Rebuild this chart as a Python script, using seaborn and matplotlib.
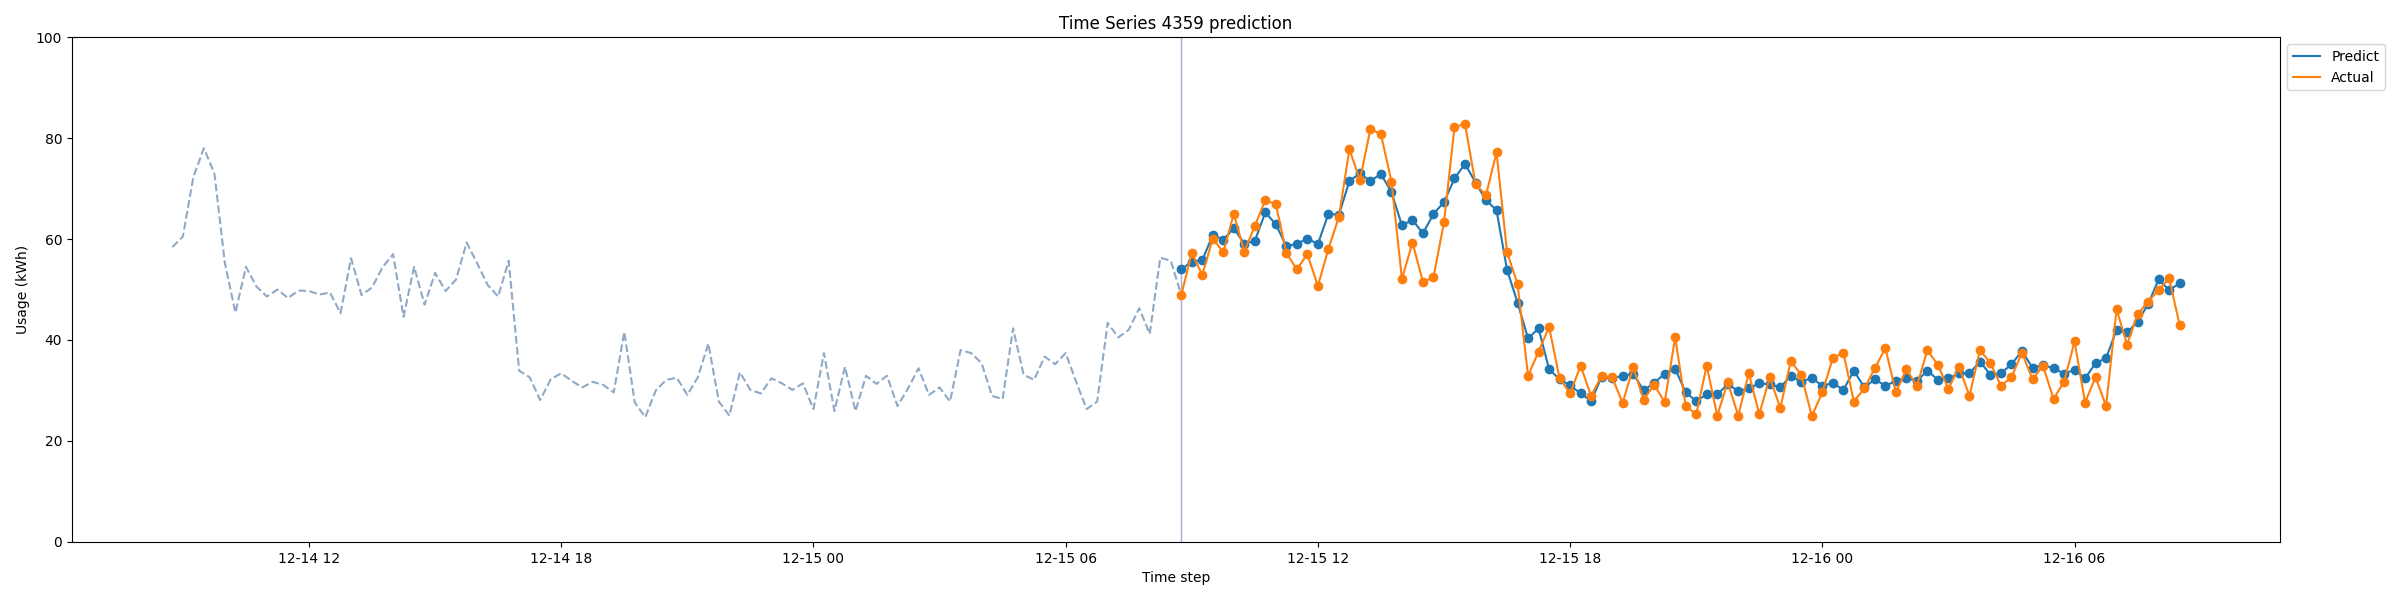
import pandas as pd
import numpy as np
import matplotlib
matplotlib.use('Agg')
import matplotlib.pyplot as plt
import matplotlib.dates as mdates
from matplotlib.lines import Line2D
import seaborn as sns

# Chart values (15 minute steps)
history_start = '2014-12-14 08:45'
forecast_start = '2014-12-15 08:45'

history = [
    58.4, 60.5, 72.3, 78.0, 73.0, 55.2, 45.4, 54.5, 50.6, 48.6,
    50.0, 48.3, 49.8, 49.7, 49.0, 49.4, 45.3, 56.2, 48.9, 50.4,
    54.4, 57.0, 44.6, 54.5, 47.0, 53.3, 49.7, 52.0, 59.3, 55.2,
    50.9, 48.6, 55.7, 33.9, 32.6, 28.1, 32.2, 33.4, 31.9, 30.6,
    31.7, 31.1, 29.6, 41.6, 27.6, 24.7, 30.0, 32.1, 32.5, 29.1,
    32.6, 39.3, 27.8, 25.0, 33.6, 30.1, 29.4, 32.4, 31.4, 30.1,
    31.4, 26.3, 37.4, 25.9, 34.7, 25.9, 32.9, 31.3, 32.9, 26.9,
    30.4, 34.4, 29.1, 30.6, 27.8, 38.0, 37.4, 35.4, 28.9, 28.3,
    42.3, 33.1, 32.1, 36.7, 35.2, 37.4, 31.7, 26.3, 27.8, 43.4,
    40.5, 42.0, 46.3, 41.2, 56.3, 55.7,
]

predict = [
    54.0, 55.5, 55.8, 60.8, 59.9, 62.1, 59.1, 59.6, 65.3, 62.9,
    58.6, 59.0, 60.1, 59.0, 65.0, 64.8, 71.5, 73.0, 71.5, 72.9,
    69.3, 62.7, 63.8, 61.1, 65.0, 67.3, 72.0, 74.9, 71.2, 67.7,
    65.7, 53.9, 47.4, 40.3, 42.3, 34.2, 32.2, 31.0, 29.4, 27.9,
    32.7, 32.4, 32.9, 33.3, 30.0, 31.5, 33.3, 34.3, 29.6, 27.9,
    29.2, 29.2, 31.2, 29.9, 30.4, 31.4, 31.2, 30.6, 32.9, 31.7,
    32.5, 30.9, 31.5, 30.1, 33.9, 30.6, 32.2, 30.9, 31.9, 32.4,
    31.9, 33.9, 32.1, 32.4, 33.4, 33.4, 35.7, 33.1, 33.4, 35.2,
    37.8, 34.5, 35.0, 34.4, 33.3, 34.1, 32.4, 35.4, 36.4, 42.0,
    41.5, 43.6, 47.1, 52.0, 49.9, 51.2,
]

actual = [
    48.9, 57.2, 52.9, 60.1, 57.4, 65.0, 57.5, 62.6, 67.7, 66.9,
    57.2, 54.0, 57.0, 50.7, 58.0, 64.4, 77.8, 71.7, 81.8, 80.8,
    71.4, 52.1, 59.3, 51.5, 52.4, 63.3, 82.2, 82.8, 70.9, 68.7,
    77.2, 57.4, 51.1, 32.9, 37.7, 42.6, 32.4, 29.4, 34.9, 28.9,
    32.9, 32.6, 27.5, 34.6, 28.2, 31.1, 27.7, 40.5, 26.9, 25.3,
    34.9, 25.0, 31.6, 25.0, 33.4, 25.3, 32.6, 26.5, 35.8, 33.1,
    24.9, 29.6, 36.4, 37.5, 27.8, 30.4, 34.4, 38.4, 29.6, 34.2,
    30.9, 38.0, 35.0, 30.3, 34.7, 28.9, 38.0, 35.4, 30.9, 32.6,
    37.5, 32.2, 34.9, 28.3, 31.7, 39.7, 27.6, 32.6, 26.9, 46.1,
    39.1, 45.1, 47.6, 49.9, 52.2, 43.0,
]

# Build frames
hist_time = pd.date_range(history_start, periods=len(history) + 1, freq='15min')
fc_time = pd.date_range(forecast_start, periods=len(predict), freq='15min')

# history line runs into the first actual value
hist_df = pd.DataFrame({'time': hist_time, 'usage': history + [actual[0]]})
fc_df = pd.DataFrame({'time': fc_time, 'predict': predict, 'actual': actual})

fig, ax = plt.subplots(figsize=(24, 6), dpi=100)

sns.lineplot(data=hist_df, x='time', y='usage', ax=ax, color='#8fa9c6',
             linestyle='--', linewidth=1.5)
ax.axvline(fc_time[0], color='#a3abd1', linewidth=1)
sns.lineplot(data=fc_df, x='time', y='predict', ax=ax, color='#1f77b4',
             marker='o', markersize=6, markeredgecolor='#1f77b4',
             markeredgewidth=1, linewidth=1.5)
sns.lineplot(data=fc_df, x='time', y='actual', ax=ax, color='#ff7f0e',
             marker='o', markersize=6, markeredgecolor='#ff7f0e',
             markeredgewidth=1, linewidth=1.5)

ax.set_ylim(0, 100)
ax.xaxis.set_major_locator(mdates.HourLocator(byhour=[0, 6, 12, 18]))
ax.xaxis.set_major_formatter(mdates.DateFormatter('%m-%d %H'))

ax.set_title('Time Series 4359 prediction')
ax.set_xlabel('Time step')
ax.set_ylabel('Usage (kWh)')

handles = [Line2D([0], [0], color='#1f77b4', linewidth=1.5),
           Line2D([0], [0], color='#ff7f0e', linewidth=1.5)]
ax.legend(handles, ['Predict', 'Actual'], loc='upper left', bbox_to_anchor=(1, 1))

plt.subplots_adjust(left=0.03, right=0.95, top=0.938, bottom=0.097)
plt.savefig('out.png', dpi=100)
